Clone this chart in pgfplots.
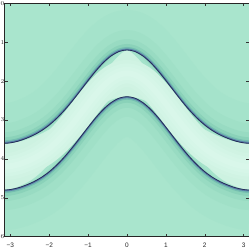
\documentclass[border=0pt]{standalone}
\usepackage{fontspec}
\setmainfont{Liberation Sans}
\usepackage{pgfplots}
\usepackage{pgfplotstable}
\pgfplotsset{compat=1.18}
\usepgfplotslibrary{fillbetween}
\definecolor{bgc}{HTML}{A9E5CD}
\definecolor{h0}{HTML}{A5E3CB}
\definecolor{h1}{HTML}{A0E0C7}
\definecolor{h2}{HTML}{98DBC2}
\definecolor{h3}{HTML}{8AD2B9}
\definecolor{h4}{HTML}{74BDB0}
\definecolor{h5}{HTML}{5A80A8}
\definecolor{linec}{HTML}{262B5A}
\definecolor{bandc}{HTML}{CDF2E1}
\definecolor{bandm}{HTML}{D0F3E3}
\definecolor{bandn}{HTML}{D3F5E6}
\definecolor{bando}{HTML}{D6F6E8}
\definecolor{bandp}{HTML}{D9F7EA}
\pgfplotstableread{
x u l m
-3.1416 3.600 4.800 4.200
-3.0 3.588 4.788 4.188
-2.8 3.545 4.745 4.145
-2.6 3.475 4.675 4.075
-2.4 3.388 4.588 3.988
-2.2 3.275 4.475 3.875
-2.0 3.130 4.330 3.730
-1.8 2.951 4.151 3.551
-1.6 2.740 3.940 3.340
-1.4 2.502 3.702 3.102
-1.2 2.246 3.446 2.846
-1.0 1.986 3.186 2.586
-0.8 1.737 2.937 2.337
-0.6 1.518 2.718 2.118
-0.4 1.347 2.547 1.947
-0.2 1.238 2.438 1.838
0 1.200 2.400 1.800
0.2 1.238 2.438 1.838
0.4 1.347 2.547 1.947
0.6 1.518 2.718 2.118
0.8 1.737 2.937 2.337
1.0 1.986 3.186 2.586
1.2 2.246 3.446 2.846
1.4 2.502 3.702 3.102
1.6 2.740 3.940 3.340
1.8 2.951 4.151 3.551
2.0 3.130 4.330 3.730
2.2 3.275 4.475 3.875
2.4 3.388 4.588 3.988
2.6 3.475 4.675 4.075
2.8 3.545 4.745 4.145
3.0 3.588 4.788 4.188
3.1416 3.600 4.800 4.200
}\curves
\begin{document}
\begin{tikzpicture}
\begin{axis}[
  name=ax,
  scale only axis,
  width=244.4bp, height=233.4bp,
  xmin=-3.1416, xmax=3.1416,
  ymin=0, ymax=6,
  y dir=reverse,
  axis on top,
  axis background/.style={fill=bgc},
  xtick={-3,-2,-1,0,1,2,3},
  xticklabels={−3,−2,−1,0,1,2,3},
  ytick={0,1,2,3,4,5,6},
  tick align=inside,
  major tick length=3bp,
  tick style={color=black!80, line width=0.5bp},
  axis line style={color=black!85, line width=0.7bp},
  ticklabel style={font=\fontsize{6.5}{8}\selectfont, text=black!85},
  xticklabel style={yshift=-2.5bp},
  yticklabel style={inner sep=0.4bp},
  every axis plot/.append style={line join=round},
]
% broad halos above upper curve and below lower curve
\addplot[draw=h0, line width=40bp, smooth, yshift=20bp] table[x=x,y=u]{\curves};
\addplot[draw=h0, line width=40bp, smooth, yshift=-20bp] table[x=x,y=l]{\curves};
\addplot[draw=h1, line width=20bp, smooth, yshift=10bp] table[x=x,y=u]{\curves};
\addplot[draw=h1, line width=20bp, smooth, yshift=-10bp] table[x=x,y=l]{\curves};
\addplot[draw=h2, line width=11bp, smooth, yshift=5.5bp] table[x=x,y=u]{\curves};
\addplot[draw=h2, line width=11bp, smooth, yshift=-5.5bp] table[x=x,y=l]{\curves};
\addplot[draw=h3, line width=6bp, smooth, yshift=3bp] table[x=x,y=u]{\curves};
\addplot[draw=h3, line width=6bp, smooth, yshift=-3bp] table[x=x,y=l]{\curves};
\addplot[draw=h4, line width=3bp, smooth, yshift=1.5bp] table[x=x,y=u]{\curves};
\addplot[draw=h4, line width=3bp, smooth, yshift=-1.5bp] table[x=x,y=l]{\curves};
\addplot[draw=h5, line width=1.5bp, smooth, yshift=0.75bp] table[x=x,y=u]{\curves};
\addplot[draw=h5, line width=1.5bp, smooth, yshift=-0.75bp] table[x=x,y=l]{\curves};
% band
\addplot[name path=U, draw=none, smooth] table[x=x,y=u]{\curves};
\addplot[name path=L, draw=none, smooth] table[x=x,y=l]{\curves};
\addplot[fill=bandc, draw=none] fill between[of=U and L];
\addplot[draw=bandm, line width=27bp, smooth] table[x=x,y=m]{\curves};
\addplot[draw=bandn, line width=20bp, smooth] table[x=x,y=m]{\curves};
\addplot[draw=bando, line width=13bp, smooth] table[x=x,y=m]{\curves};
\addplot[draw=bandp, line width=6bp, smooth] table[x=x,y=m]{\curves};
% boundary lines
\addplot[draw=linec, line width=0.8bp, smooth] table[x=x,y=u]{\curves};
\addplot[draw=linec, line width=0.8bp, smooth] table[x=x,y=l]{\curves};
\end{axis}
\pgfresetboundingbox
\path ([xshift=-4.8bp,yshift=3.3bp]ax.north west) rectangle ([xshift=-0.2bp,yshift=-12.3bp]ax.south east);
\end{tikzpicture}
\end{document}
